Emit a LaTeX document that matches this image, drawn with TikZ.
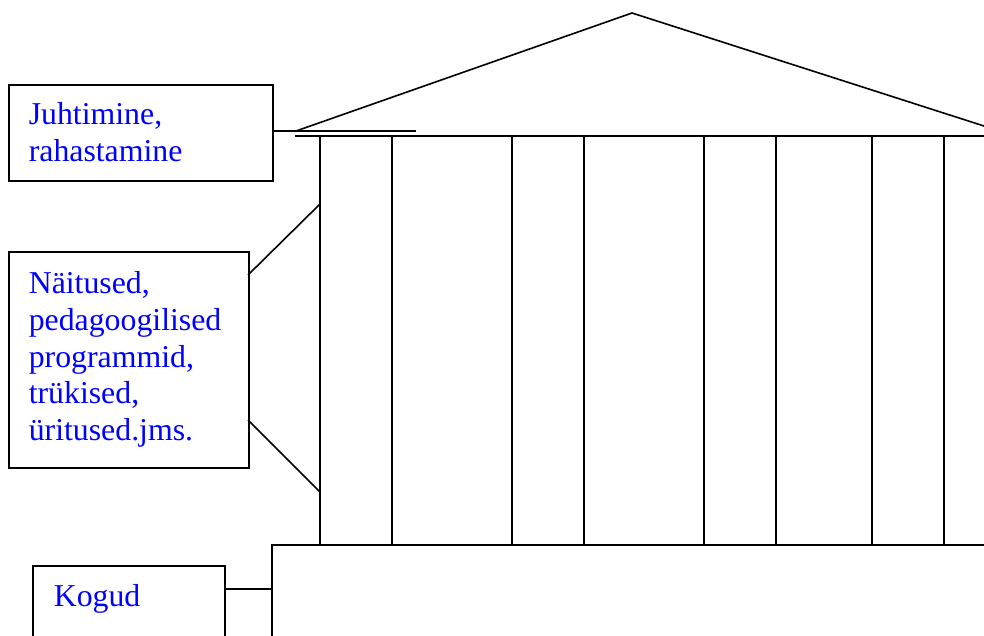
\documentclass[tikz,border=0pt]{standalone}
\usepackage{fontspec}
\setmainfont{Liberation Serif}
\begin{document}
\begin{tikzpicture}[x=1pt,y=-1pt,line width=1.6pt,
  labelbox/.style={draw,rectangle,inner sep=0pt,anchor=north west},
  labeltext/.style={anchor=base west,inner sep=0pt,text=blue,align=left,
    font=\fontsize{31.8}{36.7}\selectfont}]
\useasboundingbox (0,0) rectangle (984,635);
% boxes
\node[labelbox,minimum width=264pt,minimum height=96pt] (b1) at (8,84) {};
\node[labelbox,minimum width=240pt,minimum height=216pt] (b2) at (8,251) {};
\node[labelbox,minimum width=192pt,minimum height=80pt] (b3) at (32,565) {};
% texts
\node[labeltext] (t1) at (28,124) {Juhtimine,};
\node[labeltext] (t1b) at (28,161) {rahastamine};
\node[labeltext] (t2a) at (28,293) {Näitused,};
\node[labeltext] (t2b) at (28,330) {pedagoogilised};
\node[labeltext] (t2c) at (28,367) {programmid,};
\node[labeltext] (t2d) at (28,403) {trükised,};
\node[labeltext] (t2e) at (28,440) {üritused.jms.};
\node[labeltext] (t3) at (53,606) {Kogud};
% building
\coordinate (roofL) at (296,131);
\coordinate (apex) at (632,13);
\coordinate (roofR) at (984,126);
\coordinate (eaveL) at (295,136);
\coordinate (eaveR) at (984,136);
\coordinate (ledgeEnd) at (416,131);
\draw (roofL) -- (apex) -- (roofR);
\draw (eaveL) -- (eaveR);
\foreach \cx in {320,392,512,584,704,776,872,944}
  \draw (\cx,136) -- (\cx,545);
\coordinate (baseL) at (272,545);
\coordinate (baseR) at (984,545);
\coordinate (baseB) at (272,640);
\draw (baseR) -- (baseL) -- (baseB);
% connectors
\draw (b1.east |- ledgeEnd) -- (ledgeEnd);
\coordinate (c2a) at (248,275);
\coordinate (c2b) at (248,420);
\coordinate (col1a) at (320,204);
\coordinate (col1b) at (320,492);
\draw (c2a) -- (col1a);
\draw (c2b) -- (col1b);
\coordinate (c3) at (224,589);
\coordinate (base3) at (272,589);
\draw (c3) -- (base3);
\end{tikzpicture}
\end{document}
